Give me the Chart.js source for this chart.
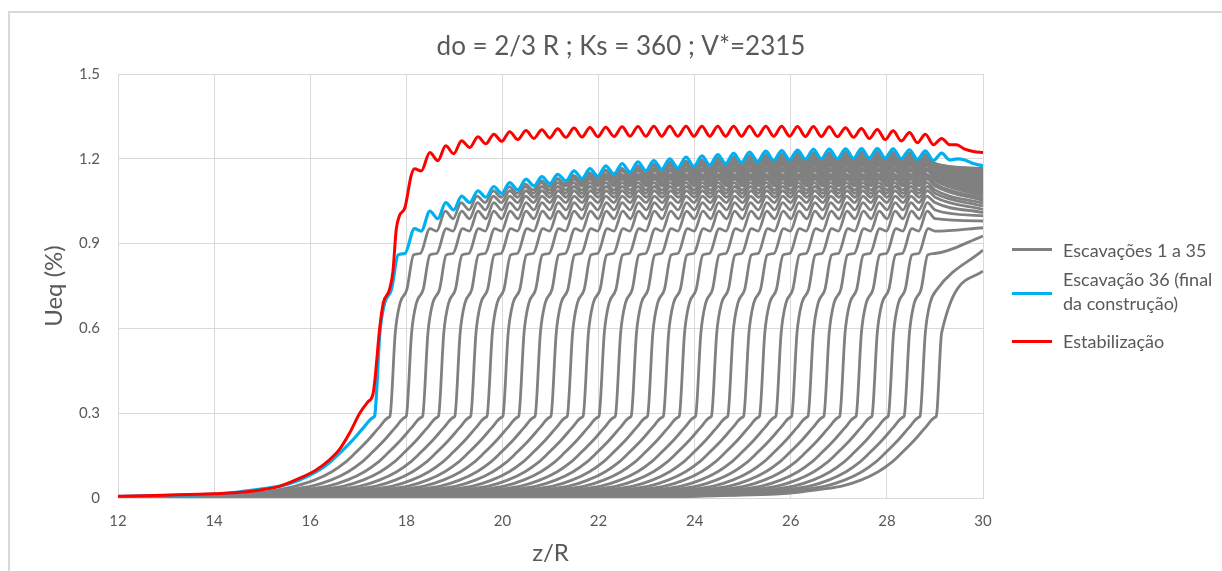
<!DOCTYPE html>
<html>
<head>
<meta charset="utf-8">
<script src="https://cdn.jsdelivr.net/npm/chart.js@4.4.1/dist/chart.umd.min.js"></script>
<style>
  html, body { margin: 0; padding: 0; background: #ffffff; }
  #wrap { position: relative; width: 1222px; height: 571px; overflow: hidden; }
  #frame { position: absolute; left: 8px; top: 11px; width: 1260px; height: 620px;
           border-left: 2px solid #d9d9d9; border-top: 2px solid #d9d9d9; }
  #chart { position: absolute; left: 0; top: 0; }
  .lg-line { position: absolute; left: 1012px; width: 40px; height: 3px; }
  .lg-text { position: absolute; left: 1063px; font-family: Lato, 'Open Sans', sans-serif;
             font-size: 18px; line-height: 24px; color: #595959; white-space: nowrap; }
</style>
</head>
<body>
<div id="wrap">
  <div id="frame"></div>
  <canvas id="chart" width="1222" height="571"></canvas>
  <div class="lg-line" style="top:248px;background:#808080"></div>
  <div class="lg-text" style="top:238px">Escavações 1 a 35</div>
  <div class="lg-line" style="top:292px;background:#00b0f0"></div>
  <div class="lg-text" style="top:267px">Escavação 36 (final<br>da construção)</div>
  <div class="lg-line" style="top:340px;background:#ff0000"></div>
  <div class="lg-text" style="top:329px">Estabilização</div>
</div>
<script>
// axis ticks
const xTicks = [12, 14, 16, 18, 20, 22, 24, 26, 28, 30];
const yTicks = [0, 0.3, 0.6, 0.9, 1.2, 1.5];

// z/R of the ripple crests (one per excavation step)
const stepPeakZ = [18.49, 18.82, 19.15, 19.49, 19.82, 20.15, 20.49, 20.82, 21.15, 21.49, 21.82,
  22.15, 22.49, 22.82, 23.15, 23.48, 23.82, 24.15, 24.48, 24.81, 25.14, 25.48, 25.81,
  26.14, 26.47, 26.8, 27.14, 27.47, 27.8, 28.13, 28.47, 28.8, 29.14];

// Escavação 36 (final da construção)
const blueFront = 17.34;
const blueLeadZ = [12, 13, 14, 14.5, 15, 15.37, 15.78, 16.13, 16.4, 16.61, 16.89, 17.1, 17.31,
  17.34, 17.45, 17.55, 17.69, 17.83, 17.97, 18.17, 18.31];
const blueLeadU = [0.005, 0.009, 0.014, 0.021, 0.032, 0.042, 0.064, 0.093, 0.125, 0.158, 0.206, 0.247, 0.285,
  0.29, 0.585, 0.69, 0.737, 0.86, 0.865, 0.953, 0.944];
const bluePeakU = [1.015, 1.045, 1.068, 1.087, 1.102, 1.116, 1.128, 1.137, 1.145, 1.157, 1.165,
  1.175, 1.183, 1.189, 1.194, 1.2, 1.206, 1.21, 1.215, 1.219, 1.224, 1.227, 1.229,
  1.231, 1.233, 1.234, 1.235, 1.236, 1.236, 1.235, 1.232, 1.228, 1.22];
const blueTroughU = [0.988, 1.019, 1.045, 1.064, 1.078, 1.09, 1.104, 1.112, 1.122, 1.13, 1.138,
  1.146, 1.153, 1.158, 1.163, 1.168, 1.173, 1.178, 1.183, 1.187, 1.191, 1.194, 1.197,
  1.199, 1.2, 1.201, 1.202, 1.203, 1.203, 1.201, 1.198, 1.194, 1.196];
const blueTailZ = [29.47, 29.62, 29.8, 30];
const blueTailU = [1.2, 1.196, 1.183, 1.175];

// Estabilização
const redLeadZ = [12, 13, 14, 14.74, 15.37, 15.78, 16.13, 16.4, 16.6, 16.82, 17.03, 17.2, 17.31,
  17.45, 17.52, 17.65, 17.72, 17.79, 17.86, 17.97, 18.1, 18.17, 18.31];
const redLeadU = [0.006, 0.01, 0.015, 0.023, 0.042, 0.07, 0.1, 0.135, 0.17, 0.23, 0.3, 0.34, 0.371,
  0.607, 0.69, 0.737, 0.8, 0.95, 1.0, 1.027, 1.14, 1.165, 1.157];
const redPeakU = [1.222, 1.246, 1.264, 1.278, 1.287, 1.296, 1.3, 1.303, 1.306, 1.309, 1.311,
  1.312, 1.313, 1.314, 1.315, 1.315, 1.315, 1.315, 1.315, 1.315, 1.315, 1.315, 1.315,
  1.314, 1.314, 1.313, 1.31, 1.307, 1.304, 1.299, 1.293, 1.287, 1.272];
const redTroughU = [1.193, 1.218, 1.24, 1.253, 1.262, 1.268, 1.272, 1.274, 1.276, 1.277, 1.278,
  1.279, 1.28, 1.28, 1.28, 1.28, 1.28, 1.28, 1.28, 1.28, 1.28, 1.28, 1.28,
  1.279, 1.279, 1.278, 1.276, 1.272, 1.268, 1.263, 1.257, 1.25, 1.25];
const redTailZ = [29.45, 29.62, 29.8, 30];
const redTailU = [1.25, 1.234, 1.226, 1.222];

// Escavações 1 a 35: face position and value at z/R = 30
const grayFront = [29.03, 28.69, 28.36, 28.03, 27.69, 27.36, 27.02, 26.69, 26.36, 26.02, 25.69, 25.35,
  25.02, 24.69, 24.35, 24.02, 23.68, 23.35, 23.02, 22.68, 22.35, 22.01, 21.68, 21.35,
  21.01, 20.68, 20.34, 20.01, 19.68, 19.34, 19.01, 18.67, 18.34, 18.0, 17.66];
const grayEnd = [0.803, 0.877, 0.927, 0.956, 0.98, 0.998, 1.01, 1.021, 1.033, 1.043, 1.052, 1.06,
  1.068, 1.075, 1.082, 1.088, 1.094, 1.1, 1.105, 1.11, 1.115, 1.12, 1.124, 1.128,
  1.132, 1.136, 1.14, 1.144, 1.147, 1.151, 1.154, 1.157, 1.16, 1.163, 1.166];
const grayFar = 0.003;      // far ahead of the face
const grayRiseCut = 29.15;  // last z/R kept from the rise near the tunnel start
const grayWaveCut = 29.03;  // ripples stop here, curves then flatten to the end value
const grayGap = 0.012;      // band stays just under curve 36

const colors = { gray: '#808080', blue: '#00b0f0', red: '#ff0000', grid: '#d9d9d9', text: '#595959' };
const fontFamily = "Lato, 'Open Sans', sans-serif";

function profile(leadZ, leadU, peakU, troughU, tailZ, tailU) {
    const pts = leadZ.map((z, i) => ({ x: z, y: leadU[i], lead: true }));
    stepPeakZ.forEach((z, i) => {
        pts.push({ x: z, y: peakU[i] });
        const next = i < stepPeakZ.length - 1 ? stepPeakZ[i + 1] : z + 0.33;
        pts.push({ x: (z + next) / 2, y: troughU[i] });
    });
    tailZ.forEach((z, i) => pts.push({ x: z, y: tailU[i] }));
    return pts;
}

const bluePts = profile(blueLeadZ, blueLeadU, bluePeakU, blueTroughU, blueTailZ, blueTailU);
const redPts = profile(redLeadZ, redLeadU, redPeakU, redTroughU, redTailZ, redTailU);

function blueAt(z) {
    for (let i = 1; i < bluePts.length; i++) {
        const a = bluePts[i - 1], b = bluePts[i];
        if (z <= b.x) return a.y + (b.y - a.y) * (z - a.x) / (b.x - a.x);
    }
    return bluePts[bluePts.length - 1].y;
}

// each excavation has the shape of no. 36, moved to its own face
const grayPts = grayFront.map((f, i) => {
    const shift = f - blueFront;
    const pts = [{ x: 12, y: grayFar }];
    bluePts.forEach(p => {
        const z = p.x + shift;
        const cut = p.lead ? grayRiseCut : grayWaveCut;
        if (z > 12.01 && z <= cut) pts.push({ x: z, y: Math.min(p.y, blueAt(z) - grayGap) });
    });
    pts.push({ x: 30, y: grayEnd[i] });
    return pts;
});

const lineBase = { pointRadius: 0, cubicInterpolationMode: 'monotone', fill: false };

const datasets = [
    { ...lineBase, label: 'Estabilização', data: redPts, borderColor: colors.red, borderWidth: 3, order: 0 },
    { ...lineBase, label: 'Escavação 36 (final da construção)', data: bluePts, borderColor: colors.blue, borderWidth: 3.2, order: 1 }
];
grayPts.forEach((pts, i) => {
    datasets.push({ ...lineBase, label: 'Escavação ' + (i + 1), data: pts, borderColor: colors.gray, borderWidth: 2.8, order: 2 });
});

new Chart(document.getElementById('chart'), {
    type: 'line',
    data: { datasets: datasets },
    options: {
        responsive: false,
        animation: false,
        devicePixelRatio: 1,
        events: [],
        layout: { padding: { left: 20, right: 0, top: 12, bottom: 0 } },
        plugins: {
            legend: { display: false },
            tooltip: { enabled: false },
            title: {
                display: true,
                text: 'do = 2/3 R ; Ks = 360 ; V*=2315',
                color: colors.text,
                font: { family: fontFamily, size: 26, weight: 'normal', lineHeight: 1.2 },
                padding: { top: 19, bottom: 11.8 }
            }
        },
        scales: {
            x: {
                type: 'linear',
                min: 12,
                max: 30,
                afterBuildTicks: s => { s.ticks = xTicks.map(v => ({ value: v })); },
                afterFit: s => { s.height = 73; },
                grid: { color: colors.grid, drawTicks: false },
                border: { color: colors.grid },
                ticks: { color: colors.text, padding: 14, font: { family: fontFamily, size: 15 } },
                title: {
                    display: true, text: 'z/R', color: colors.text,
                    font: { family: fontFamily, size: 24, lineHeight: 1.2 },
                    padding: { top: 0, bottom: 3.6 }
                }
            },
            y: {
                min: 0,
                max: 1.5,
                afterBuildTicks: s => { s.ticks = yTicks.map(v => ({ value: v })); },
                afterFit: s => { s.width = 98; },
                grid: { color: colors.grid, drawTicks: false },
                border: { color: colors.grid },
                ticks: {
                    color: colors.text, padding: 18, font: { family: fontFamily, size: 15 },
                    callback: v => v === 0 ? '0' : v.toFixed(1)
                },
                title: {
                    display: true, text: 'Ueq (%)', color: colors.text,
                    font: { family: fontFamily, size: 24, lineHeight: 1.2 },
                    padding: { top: 19.6, bottom: 0 }
                }
            },
            legendSpace: {
                position: 'right',
                display: true,
                afterFit: s => { s.width = 239; },
                grid: { display: false, drawOnChartArea: false },
                border: { display: false },
                ticks: { display: false }
            }
        }
    }
});
</script>
</body>
</html>
